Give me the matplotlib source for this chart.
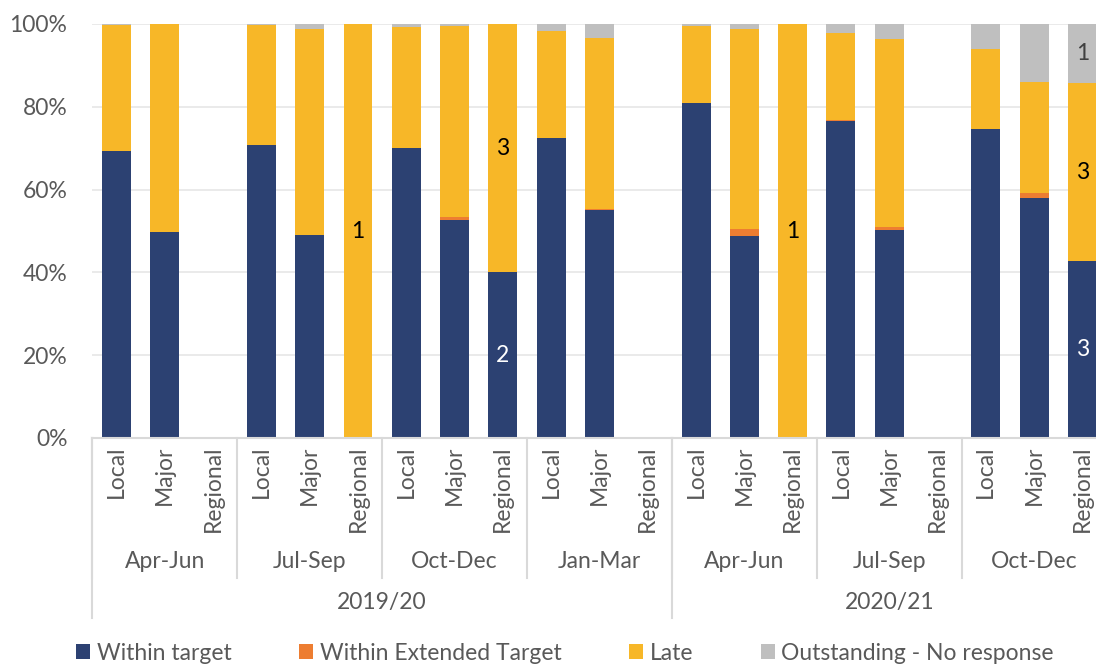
import numpy as np
import matplotlib.pyplot as plt

plt.rcParams['font.family'] = ['Lato', 'DejaVu Sans']

quarters = ["Apr-Jun", "Jul-Sep", "Oct-Dec", "Jan-Mar", "Apr-Jun", "Jul-Sep", "Oct-Dec"]
years = ["2019/20", "2020/21"]
quarters_per_year = [4, 3]
types = ["Local", "Major", "Regional"]

# percentages, order: each quarter -> Local, Major, Regional
within = [69.3, 49.7, 0, 70.8, 49.0, 0, 70.0, 52.7, 40.0, 72.4, 55.1, 0,
          80.8, 48.8, 0, 76.5, 50.2, 0, 74.6, 58.0, 42.8]
extended = [0, 0, 0, 0, 0, 0, 0, 0.7, 0, 0, 0.3, 0,
            0, 1.7, 0, 0.3, 0.8, 0, 0, 1.2, 0]
late = [30.4, 50.3, 0, 29.0, 49.7, 100, 29.2, 46.0, 60.0, 25.9, 41.1, 0,
        18.6, 48.2, 100, 21.1, 45.3, 0, 19.3, 26.7, 42.9]
outstanding = [0.3, 0, 0, 0.2, 1.3, 0, 0.8, 0.6, 0, 1.7, 3.5, 0,
               0.6, 1.3, 0, 2.1, 3.7, 0, 6.1, 14.1, 14.3]

# counts shown on the regional bars
reg_within = [0, 0, 2, 0, 0, 0, 3]
reg_late = [0, 1, 3, 0, 1, 0, 3]
reg_out = [0, 0, 0, 0, 0, 0, 1]

c_within = '#2C4172'
c_ext = '#ED7D31'
c_late = '#F7B728'
c_out = '#BFBFBF'
txt = '#595959'
fs = 16.5

fig = plt.figure(figsize=(10.96, 6.64), dpi=100)
W, H = 1096, 664
left_px, right_px, top_px, bot_px = 92.4, 1106.5, 24, 438
ax = fig.add_axes([left_px / W, (H - bot_px) / H, (right_px - left_px) / W, (bot_px - top_px) / H])

x = np.arange(len(within))
w = np.array(within) / 100
e = np.array(extended) / 100
l = np.array(late) / 100
o = np.array(outstanding) / 100
bw = 0.6
ax.bar(x, w, bw, color=c_within, label="Within target", zorder=2)
ax.bar(x, e, bw, bottom=w, color=c_ext, label="Within Extended Target", zorder=2)
ax.bar(x, l, bw, bottom=w + e, color=c_late, label="Late", zorder=2)
ax.bar(x, o, bw, bottom=w + e + l, color=c_out, label="Outstanding - No response", zorder=2)

# labels on regional bars
for q in range(len(quarters)):
    i = q * 3 + 2
    if reg_within[q]:
        ax.text(i, w[i] / 2, str(reg_within[q]), ha='center', va='center', color='white', fontsize=fs, zorder=3)
    if reg_late[q]:
        ax.text(i, w[i] + e[i] + l[i] / 2, str(reg_late[q]), ha='center', va='center', color='black', fontsize=fs, zorder=3)
    if reg_out[q]:
        ax.text(i, 1 - o[i] / 2, str(reg_out[q]), ha='center', va='center', color='#404040', fontsize=fs, zorder=3)

ax.set_ylim(0, 1)
ax.set_xlim(-0.5, len(x) - 0.5)
ax.set_yticks(np.arange(0, 1.01, 0.2))
ax.set_yticklabels([f"{int(round(v * 100))}%" for v in np.arange(0, 1.01, 0.2)], fontsize=fs, color=txt)
ax.tick_params(axis='y', length=0, pad=18)
ax.set_xticks([])
ax.grid(axis='y', color='#E8E8E8', lw=1.3, zorder=0)
for s in ['left', 'right', 'top']:
    ax.spines[s].set_visible(False)
ax.spines['bottom'].set_color('#D9D9D9')
ax.spines['bottom'].set_linewidth(1.5)

# multi-level category axis
ah = bot_px - top_px
tr = ax.get_xaxis_transform()
for i in range(len(x)):
    ax.text(i, -8 / ah, types[i % 3], rotation=90, ha='center', va='top', fontsize=fs, color=txt,
            transform=tr, clip_on=False)
for q, name in enumerate(quarters):
    ax.text(q * 3 + 1, (bot_px - 561) / ah, name, ha='center', va='center', fontsize=fs, color=txt,
            transform=tr, clip_on=False)
quarter_sep = (bot_px - 578) / ah
year_sep = (bot_px - 618) / ah
for q in range(len(quarters) + 1):
    ax.plot([q * 3 - 0.5] * 2, [0, quarter_sep], color='#D9D9D9', lw=1.5, transform=tr, clip_on=False)
start = 0
for y, n in zip(years, quarters_per_year):
    ax.plot([start * 3 - 0.5] * 2, [0, year_sep], color='#D9D9D9', lw=1.5, transform=tr, clip_on=False)
    ax.text(start * 3 + n * 1.5 - 0.5, (bot_px - 603) / ah, y, ha='center', va='center', fontsize=fs,
            color=txt, transform=tr, clip_on=False)
    start += n
ax.plot([start * 3 - 0.5] * 2, [0, year_sep], color='#D9D9D9', lw=1.5, transform=tr, clip_on=False)

leg = fig.legend(loc='center', bbox_to_anchor=(565 / W, 11 / H), ncol=4, frameon=False, fontsize=fs,
                 handlelength=0.6, handleheight=0.6, handletextpad=0.3, columnspacing=2.95)
for t in leg.get_texts():
    t.set_color(txt)

fig.savefig("out.png", dpi=100)
